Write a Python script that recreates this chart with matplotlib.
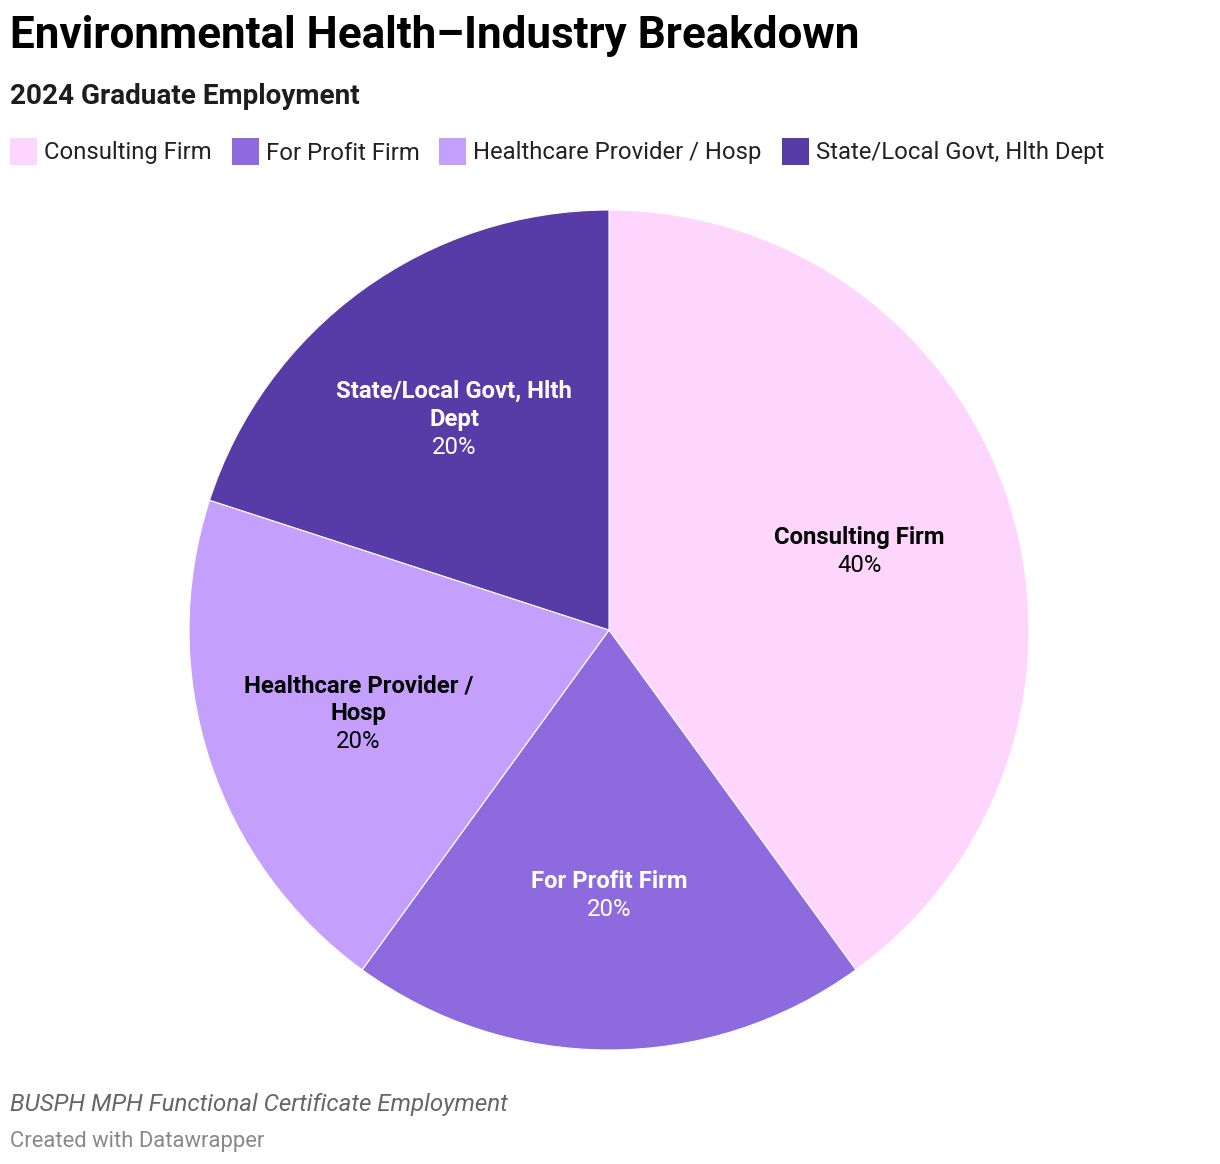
import numpy as np
import matplotlib.pyplot as plt
from matplotlib.patches import Rectangle

plt.rcParams['font.family'] = ['Roboto', 'DejaVu Sans']

# data
categories = ['Consulting Firm', 'For Profit Firm', 'Healthcare Provider / Hosp', 'State/Local Govt, Hlth Dept']
shares = [40, 20, 20, 20]
wrapped = ['Consulting Firm', 'For Profit Firm', 'Healthcare Provider /\nHosp', 'State/Local Govt, Hlth\nDept']
colors = ['#fed5fd', '#8d6bde', '#c59ffc', '#573ca8']
label_colors = ['#000000', '#ffffff', '#000000', '#ffffff']

W, H = 1220, 1164
fig = plt.figure(figsize=(W / 100, H / 100), dpi=100)

# pie axes: center (609, 630), radius 420
cx, cy, r = 609, 630, 420
ax = fig.add_axes([(cx - r) / W, (H - cy - r) / H, 2 * r / W, 2 * r / H])
wedges, _ = ax.pie(shares, colors=colors, startangle=90, counterclock=False,
                   radius=1, wedgeprops=dict(edgecolor='white', linewidth=0.8))
ax.set_xlim(-1, 1)
ax.set_ylim(-1, 1)
ax.set_aspect('equal')
ax.axis('off')

# labels inside slices
ld = 0.627
line = 20.2  # points between lines
for w, name, pct, tc in zip(wedges, wrapped, shares, label_colors):
    ang = np.deg2rad((w.theta1 + w.theta2) / 2)
    x, y = ld * np.cos(ang), ld * np.sin(ang)
    lines = name.split('\n')
    n = len(lines) + 1
    top = (n - 1) / 2 * line - 1.8
    for i, ln in enumerate(lines):
        ax.annotate(ln, (x, y), xytext=(0, top - i * line), textcoords='offset points',
                    ha='center', va='center', fontsize=17.2, fontweight='bold', color=tc)
    ax.annotate(f'{pct}%', (x, y), xytext=(0, top - len(lines) * line), textcoords='offset points',
                ha='center', va='center', fontsize=17.2, color=tc)

# title block
fig.text(10 / W, 1 - 36 / H, 'Environmental Health\u2013Industry Breakdown', fontsize=31.7,
         fontweight='bold', color='#000000', va='center', ha='left')
fig.text(10 / W, 1 - 97 / H, '2024 Graduate Employment', fontsize=20.1,
         fontweight='bold', color='#1d1d1d', va='center', ha='left')

# legend
renderer = fig.canvas.get_renderer()
x0 = 10
sq = 27
for cat, col in zip(categories, colors):
    fig.patches.append(Rectangle((x0 / W, 1 - (152 + sq / 2) / H), sq / W, sq / H,
                                 transform=fig.transFigure, facecolor=col, edgecolor='none'))
    t = fig.text((x0 + sq + 7) / W, 1 - 153 / H, cat, fontsize=17.2, color='#222222',
                 va='center', ha='left')
    bb = t.get_window_extent(renderer)
    x0 = bb.x1 + 20

# footer
fig.text(10 / W, 1 - 1105 / H, 'BUSPH MPH Functional Certificate Employment', fontsize=17.4,
         fontstyle='italic', color='#666666', va='center', ha='left')
fig.text(10 / W, 1 - 1141 / H, 'Created with Datawrapper', fontsize=15.8,
         color='#888888', va='center', ha='left')

fig.savefig('out.png', dpi=100, facecolor='white')
